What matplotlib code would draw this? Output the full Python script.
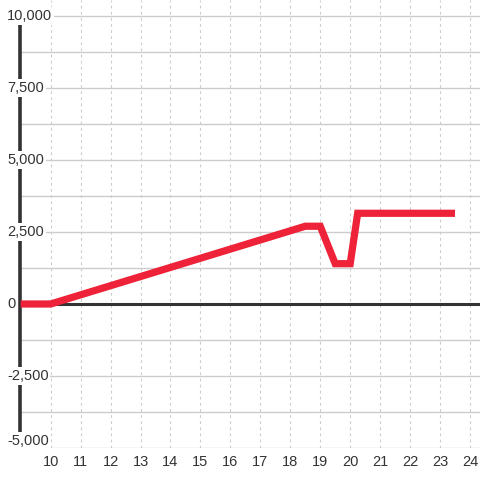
import numpy as np
import matplotlib.pyplot as plt

plt.rcParams['font.family'] = ['Liberation Sans', 'DejaVu Sans']

# series
hours = [9.0, 10.0, 18.5, 19.0, 19.5, 20.0, 20.25, 23.5]
values = [0, 0, 2700, 2700, 1400, 1400, 3150, 3150]

x_ticks = list(range(10, 25))
y_grid = np.arange(-5000, 10001, 1250)
y_labels = [-5000, -2500, 0, 2500, 5000, 7500, 10000]

red = '#ee2238'
dark = '#333333'
grid = '#cccccc'

fig = plt.figure(figsize=(4.8, 4.8), dpi=100)
ax = fig.add_axes([20 / 480, 32 / 480, 460 / 480, 448 / 480])

ax.set_xlim(9 - 0.7 / 29.95, 9 + 459.25 / 29.95)
ax.set_ylim(-5000, 10000 + 16 / 28.8 * 1000)

for s in ['top', 'right', 'bottom']:
    ax.spines[s].set_visible(False)
ax.spines['left'].set_color(dark)
ax.spines['left'].set_linewidth(2.6)
ax.spines['left'].set_bounds(-5000, 10000)
ax.spines['left'].set_zorder(1)

ax.set_yticks(y_grid)
ax.set_yticklabels([])
ax.tick_params(axis='y', length=0)
ax.set_xticks(x_ticks)
ax.tick_params(axis='x', length=0, pad=5, labelsize=10.5, labelcolor=dark)

for v in y_grid:
    ax.axhline(v, color=grid, lw=1, zorder=0)
for v in x_ticks:
    ax.plot([v, v], [-5000, ax.get_ylim()[1]], color=grid, lw=0.8,
            ls=(0, (2.5, 3)), zorder=0)

ax.axhline(0, color=dark, lw=2.2, zorder=2)

ax.plot(hours, values, color=red, lw=5.2, solid_joinstyle='miter',
        solid_capstyle='butt', zorder=3)

ytrans = ax.get_yaxis_transform()
for v in y_labels:
    yy = v + 250 if v == -5000 else v
    ax.text(-13 / 460, yy, f'{v:,}', transform=ytrans, ha='left',
            va='center', fontsize=10.5, color=dark, zorder=5,
            bbox=dict(boxstyle='square,pad=0.12', fc='white', ec='none'))

fig.savefig('out.png', dpi=100)
